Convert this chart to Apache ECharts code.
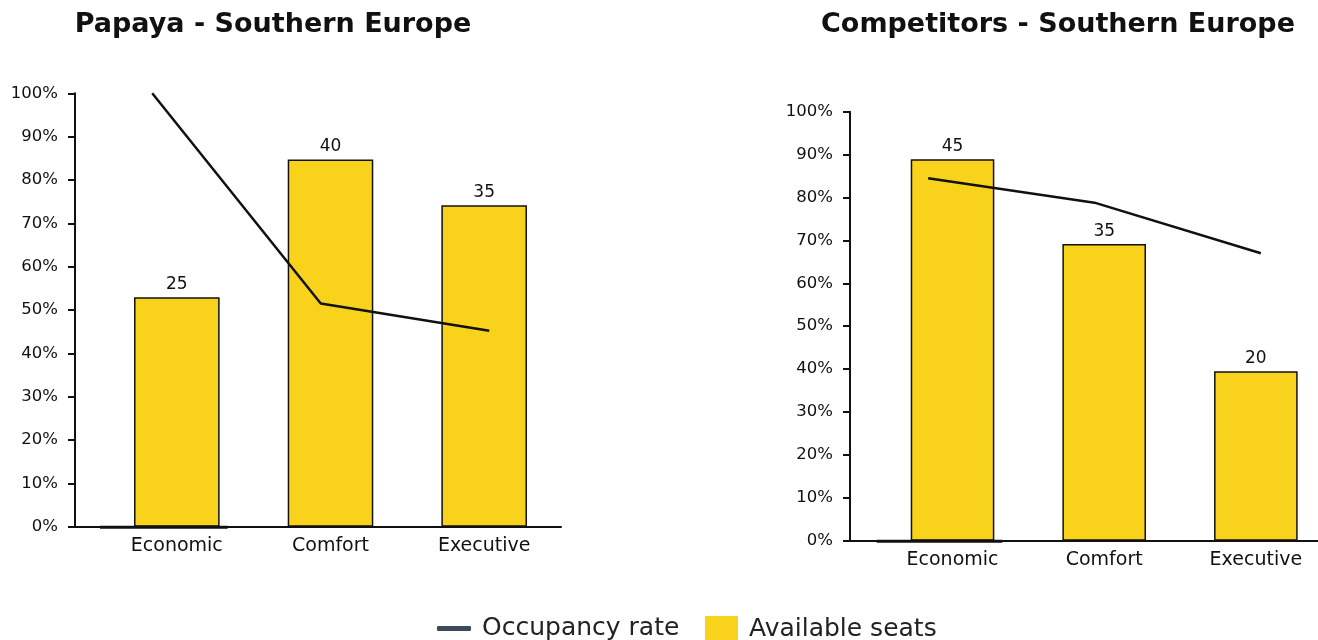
<!DOCTYPE html>
<html>
<head>
<meta charset="utf-8">
<script src="https://cdn.jsdelivr.net/npm/echarts@6/dist/echarts.min.js"></script>
<style>
  html, body { margin: 0; padding: 0; background: #fff; }
  #chart { width: 1318px; height: 640px; }
</style>
</head>
<body>
<div id="chart"></div>
<script>
// Seat classes shown on both panels
const categories = ['Economic', 'Comfort', 'Executive'];

// Papaya - Southern Europe
const papayaSeats = [25, 40, 35];          // available seats (bar labels)
const papayaOccupancy = [100, 51.5, 45.2]; // occupancy rate, %

// Competitors - Southern Europe
const rivalSeats = [45, 35, 20];
const rivalOccupancy = [84.5, 78.8, 67.0];

// Percentage ticks on the visible y axis
const pctTicks = [0, 10, 20, 30, 40, 50, 60, 70, 80, 90, 100];

const FONT = 'DejaVu Sans';
const INK = '#111111';
const YELLOW = '#F9D31B';

const chart = echarts.init(document.getElementById('chart'), null, { renderer: 'canvas' });

// Each panel uses three stacked grids: one carrying the visible axes,
// one for the bars and one for the occupancy line.
function panel(p) {
  const base = { top: p.top, height: p.height, outerBoundsMode: 'none', containLabel: false };
  const grids = [
    Object.assign({ left: p.axisLeft, width: p.axisRight - p.axisLeft }, base),
    Object.assign({ left: p.barLeft, width: p.barRight - p.barLeft }, base),
    Object.assign({ left: p.lineLeft, width: p.lineRight - p.lineLeft }, base)
  ];
  const xAxes = [
    {
      gridIndex: p.g, type: 'value', min: 0, max: 1,
      axisLine: { show: true, onZero: false, lineStyle: { color: INK, width: 2 } },
      axisTick: { show: false }, axisLabel: { show: false }, splitLine: { show: false }
    },
    {
      gridIndex: p.g + 1, type: 'category', data: categories,
      axisLine: { show: false }, axisTick: { show: false },
      axisLabel: { color: INK, fontFamily: FONT, fontSize: 19, margin: 10 }
    },
    {
      gridIndex: p.g + 2, type: 'category', data: categories, show: false
    }
  ];
  const yAxes = [
    {
      gridIndex: p.g, type: 'value', min: 0, max: 100, interval: 10,
      axisLine: { show: true, lineStyle: { color: INK, width: 2 } },
      axisTick: { show: true, length: 7, lineStyle: { color: INK, width: 2 } },
      axisLabel: {
        color: INK, fontFamily: FONT, fontSize: 16.5, margin: 17,
        formatter: v => (pctTicks.includes(v) ? v + '%' : '')
      },
      splitLine: { show: false }
    },
    { gridIndex: p.g + 1, type: 'value', min: 0, max: p.seatMax, show: false },
    { gridIndex: p.g + 2, type: 'value', min: 0, max: 100, show: false }
  ];
  const series = [
    {
      name: 'Available seats', type: 'bar',
      xAxisIndex: p.g + 1, yAxisIndex: p.g + 1,
      data: p.seats, barWidth: p.barSize,
      itemStyle: { color: YELLOW, borderColor: INK, borderWidth: 1.5 },
      label: {
        show: true, position: 'top', distance: 4,
        color: INK, fontFamily: FONT, fontSize: 17
      },
      z: 2
    },
    {
      name: 'Occupancy rate', type: 'line',
      xAxisIndex: p.g + 2, yAxisIndex: p.g + 2,
      data: p.occupancy, symbol: 'none',
      lineStyle: { color: INK, width: 2.5 },
      itemStyle: { color: INK },
      z: 5
    }
  ];
  return { grids, xAxes, yAxes, series };
}

const leftPanel = {
  g: 0, top: 93.3, height: 433.4,
  axisLeft: 75, axisRight: 561,
  barLeft: 100, barRight: 561,
  lineLeft: 68, lineRight: 573.5,
  seatMax: 47.2, barSize: 85.6,
  seats: papayaSeats, occupancy: papayaOccupancy
};
const rightPanel = {
  g: 3, top: 111.7, height: 429,
  axisLeft: 850, axisRight: 1318,
  barLeft: 876.7, barRight: 1331.7,
  lineLeft: 845, lineRight: 1344,
  seatMax: 50.6, barSize: 83.6,
  seats: rivalSeats, occupancy: rivalOccupancy
};
const left = panel(leftPanel);
const right = panel(rightPanel);

const titleStyle = { color: INK, fontFamily: FONT, fontSize: 27, fontWeight: 'bold' };
const legendText = { color: '#222', fontFamily: FONT, fontSize: 25, padding: [0, 0, 0, 6] };

chart.setOption({
  animation: false,
  backgroundColor: '#ffffff',
  title: [
    { text: 'Papaya - Southern Europe', left: 268, top: 6, textAlign: 'center', textStyle: titleStyle },
    { text: 'Competitors - Southern Europe', left: 1053, top: 6, textAlign: 'center', textStyle: titleStyle }
  ],
  legend: [
    {
      data: [{ name: 'Occupancy rate', icon: 'roundRect', itemStyle: { color: '#3d4a5c' } }],
      left: 437, top: 616, padding: 0, itemWidth: 34, itemHeight: 5,
      textStyle: legendText, selectedMode: false
    },
    {
      data: [{ name: 'Available seats', icon: 'rect' }],
      left: 705, top: 616, padding: 0, itemWidth: 33, itemHeight: 27,
      itemStyle: { borderWidth: 0 },
      textStyle: legendText, selectedMode: false
    }
  ],
  grid: [...left.grids, ...right.grids],
  xAxis: [...left.xAxes, ...right.xAxes],
  yAxis: [...left.yAxes, ...right.yAxes],
  series: [...left.series, ...right.series]
});

// Short dark rule along the baseline under the first seat class,
// running from the start of its band to just past the bar's right edge.
function baseRule(p) {
  const xi = p.g + 1;
  const c0 = chart.convertToPixel({ xAxisIndex: xi }, categories[0]);
  const c1 = chart.convertToPixel({ xAxisIndex: xi }, categories[1]);
  const y0 = chart.convertToPixel({ yAxisIndex: xi }, 0);
  const band = c1 - c0;
  return {
    type: 'line', z: 10,
    shape: { x1: c0 - band / 2, y1: y0 + 0.5, x2: c0 + p.barSize / 2 + 8, y2: y0 + 0.5 },
    style: { stroke: INK, lineWidth: 3 }
  };
}
chart.setOption({ graphic: [baseRule(leftPanel), baseRule(rightPanel)] });
</script>
</body>
</html>
